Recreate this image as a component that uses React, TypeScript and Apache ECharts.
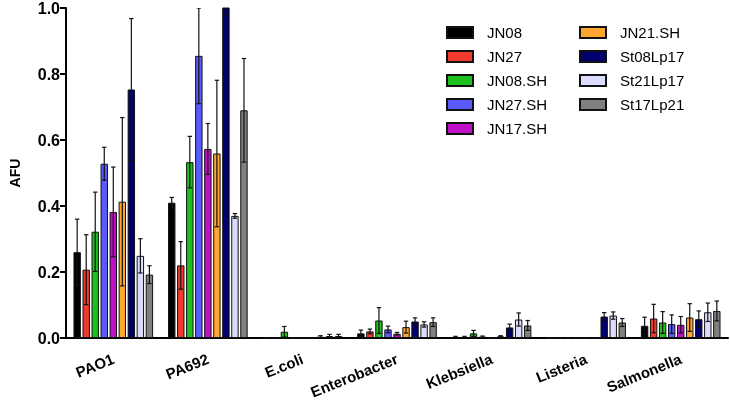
import React, { useEffect, useRef } from "react";
import * as echarts from "echarts";

const categories = ["PAO1", "PA692", "E.coli", "Enterobacter", "Klebsiella", "Listeria", "Salmonella"];
const seriesNames = ["JN08", "JN27", "JN08.SH", "JN27.SH", "JN17.SH", "JN21.SH", "St08Lp17", "St21Lp17", "St17Lp21"];
const colors = ["#000000", "#f03a2e", "#1ec01e", "#5a5aff", "#c010c8", "#ffa530", "#00006e", "#dcdcff", "#808080"];

const jn08 = [0.26, 0.41, 0, 0.014, 0.003, 0, 0.037];
const jn08Err = [0.1, 0.016, 0, 0.01, 0.002, 0, 0.026];
const jn27 = [0.207, 0.22, 0, 0.02, 0.003, 0, 0.059];
const jn27Err = [0.106, 0.072, 0, 0.007, 0.002, 0, 0.043];
const jn08sh = [0.322, 0.533, 0.019, 0.053, 0.014, 0, 0.047];
const jn08shErr = [0.12, 0.078, 0.016, 0.039, 0.009, 0, 0.033];
const jn27sh = [0.528, 0.855, 0, 0.026, 0.004, 0, 0.042];
const jn27shErr = [0.05, 0.145, 0, 0.01, 0.002, 0, 0.028];
const jn17sh = [0.382, 0.573, 0, 0.013, 0, 0, 0.04];
const jn17shErr = [0.136, 0.077, 0, 0.004, 0, 0, 0.025];
const jn21sh = [0.413, 0.559, 0, 0.033, 0.005, 0, 0.062];
const jn21shErr = [0.255, 0.222, 0, 0.018, 0.002, 0, 0.042];
const st08lp17 = [0.753, 1.08, 0.004, 0.05, 0.032, 0.065, 0.057];
const st08lp17Err = [0.215, 0.1, 0.003, 0.011, 0.01, 0.012, 0.025];
const st21lp17 = [0.249, 0.37, 0.006, 0.041, 0.056, 0.068, 0.078];
const st21lp17Err = [0.052, 0.007, 0.005, 0.008, 0.02, 0.011, 0.028];
const st17lp21 = [0.192, 0.69, 0.006, 0.048, 0.038, 0.047, 0.082];
const st17lp21Err = [0.027, 0.157, 0.005, 0.013, 0.015, 0.012, 0.03];

const yTicks = [0, 0.2, 0.4, 0.6, 0.8, 1.0];

const values = [jn08, jn27, jn08sh, jn27sh, jn17sh, jn21sh, st08lp17, st21lp17, st17lp21];
const errors = [jn08Err, jn27Err, jn08shErr, jn27shErr, jn17shErr, jn21shErr, st08lp17Err, st21lp17Err, st17lp21Err];

const FONT = "'Liberation Sans', Arial, sans-serif";
const BAR_W = 7.4;
const BAR_GAP = 0.22;

export default function App() {
  const ref = useRef<HTMLDivElement>(null);
  useEffect(() => {
    if (!ref.current) return;
    const chart = echarts.init(ref.current, null, { renderer: "svg" });
    const n = seriesNames.length;
    const step = BAR_W * (1 + BAR_GAP);

    const barSeries = seriesNames.map((name, i) => ({
      name,
      type: "bar",
      data: values[i],
      barWidth: BAR_W,
      barGap: BAR_GAP * 100 + "%",
      itemStyle: { color: colors[i], borderColor: "#111", borderWidth: 1 },
      z: 2,
    }));

    const errSeries = seriesNames.map((name, i) => ({
      name: name + "_err",
      type: "custom",
      clip: true,
      z: 3,
      silent: true,
      data: values[i].map((v, k) => [k, v, errors[i][k]]),
      renderItem: (params: any, api: any) => {
        const k = api.value(0);
        const v = api.value(1);
        const e = api.value(2);
        if (!e) return null;
        const off = (i - (n - 1) / 2) * step;
        const top = api.coord([k, v + e]);
        const bot = api.coord([k, Math.max(0, v - e)]);
        const x = top[0] + off;
        const cap = 2.2;
        const style = { stroke: "#111", lineWidth: 1.2, fill: null };
        return {
          type: "group",
          children: [
            { type: "line", shape: { x1: x, y1: top[1], x2: x, y2: bot[1] }, style },
            { type: "line", shape: { x1: x - cap, y1: top[1], x2: x + cap, y2: top[1] }, style },
            { type: "line", shape: { x1: x - cap, y1: bot[1], x2: x + cap, y2: bot[1] }, style },
          ],
        };
      },
    }));

    const legendCommon = {
      orient: "vertical",
      top: 25,
      padding: 0,
      itemWidth: 26,
      itemHeight: 11,
      itemGap: 9,
      icon: "rect",
      textStyle: { fontFamily: FONT, fontSize: 15, color: "#000", padding: [0, 0, 0, 9] },
    };

    chart.setOption({
      animation: false,
      textStyle: { fontFamily: FONT },
      grid: { left: 64, right: 2, top: 6, bottom: 64, containLabel: false },
      legend: [
        { ...legendCommon, left: 446, data: seriesNames.slice(0, 5) },
        { ...legendCommon, left: 579, data: seriesNames.slice(5) },
      ],
      xAxis: {
        type: "category",
        data: categories,
        axisLine: { lineStyle: { color: "#000", width: 2 } },
        axisTick: { alignWithLabel: true, length: 7, lineStyle: { color: "#000", width: 2 } },
        axisLabel: {
          rotate: 22,
          margin: 20,
          fontSize: 15,
          fontWeight: "bold",
          color: "#000",
          fontFamily: FONT,
          interval: 0,
        },
      },
      yAxis: {
        type: "value",
        min: yTicks[0],
        max: yTicks[yTicks.length - 1],
        interval: 0.2,
        name: "AFU",
        nameLocation: "middle",
        nameGap: 44,
        nameTextStyle: { fontSize: 14, fontWeight: "bold", color: "#000", fontFamily: FONT },
        splitLine: { show: false },
        axisLine: { show: true, lineStyle: { color: "#000", width: 2 } },
        axisTick: { show: true, length: 6, lineStyle: { color: "#000", width: 2 } },
        axisLabel: {
          fontSize: 16,
          fontWeight: "bold",
          color: "#000",
          fontFamily: FONT,
          margin: 6,
          formatter: (v: number) => v.toFixed(1),
        },
      },
      series: [...barSeries, ...errSeries],
    });
    return () => chart.dispose();
  }, []);
  return <div ref={ref} style={{ position: "fixed", left: 0, top: 0, width: 730, height: 402 }} />;
}
